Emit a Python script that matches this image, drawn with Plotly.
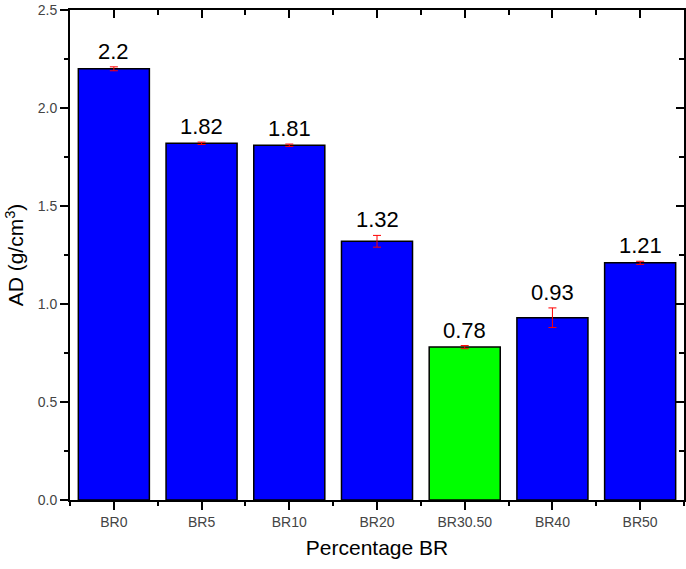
import plotly.graph_objects as go

categories = ["BR0", "BR5", "BR10", "BR20", "BR30.50", "BR40", "BR50"]
values = [2.2, 1.82, 1.81, 1.32, 0.78, 0.93, 1.21]
errors = [0.01, 0.006, 0.006, 0.03, 0.008, 0.05, 0.008]
labels = ["2.2", "1.82", "1.81", "1.32", "0.78", "0.93", "1.21"]
bar_colors = ["#0000FF", "#0000FF", "#0000FF", "#0000FF", "#00FF00", "#0000FF", "#0000FF"]

xpos = list(range(len(categories)))
font = "Liberation Sans, Arial, sans-serif"

fig = go.Figure()
fig.add_trace(go.Bar(
    x=xpos, y=values,
    marker=dict(color=bar_colors, line=dict(color="black", width=1.5)),
    error_y=dict(type="data", array=errors, color="red", thickness=1, width=4),
    width=0.81,
    showlegend=False,
))
# invisible trace to activate mirror axes
fig.add_trace(go.Scatter(x=[xpos[0]], y=[0], xaxis="x2", yaxis="y2",
                         mode="markers", marker=dict(opacity=0), showlegend=False,
                         hoverinfo="skip"))

for xi, v, e, t in zip(xpos, values, errors, labels):
    fig.add_annotation(x=xi, y=v + e, text=t, showarrow=False, yanchor="bottom",
                       yshift=1, font=dict(size=22, color="black", family=font))

xr = [-0.5, len(categories) - 0.5]
yr = [0, 2.5]
fig.update_layout(
    width=686, height=569,
    margin=dict(l=70, r=2, t=6, b=69),
    plot_bgcolor="white", paper_bgcolor="white",
    font=dict(family=font),
    xaxis=dict(range=xr, tickvals=xpos, ticktext=categories,
               ticks="outside", ticklen=8, tickwidth=2, tickcolor="black",
               showline=True, linecolor="black", linewidth=2, showgrid=False,
               zeroline=False,
               tickfont=dict(size=14, color="#444444"),
               minor=dict(ticks="outside", tick0=-0.5, dtick=1, ticklen=4,
                          tickwidth=2, tickcolor="black", showgrid=False),
               title=dict(text="Percentage BR", font=dict(size=21, color="black"), standoff=12)),
    yaxis=dict(range=yr, dtick=0.5, tickformat=".1f", ticklabeloverflow="allow",
               ticks="outside", ticklen=8, tickwidth=2, tickcolor="black",
               showline=True, linecolor="black", linewidth=2, showgrid=False,
               zeroline=False,
               tickfont=dict(size=14, color="#444444"),
               minor=dict(ticks="outside", dtick=0.25, ticklen=4, tickwidth=2,
                          tickcolor="black", showgrid=False),
               title=dict(text="AD (g/cm<sup>3</sup>)", font=dict(size=21, color="black"), standoff=8)),
    xaxis2=dict(overlaying="x", side="top", range=xr, tickvals=xpos, showticklabels=False,
                ticks="inside", ticklen=8, tickwidth=2, tickcolor="black",
                showline=True, linecolor="black", linewidth=2, showgrid=False, zeroline=False,
                minor=dict(ticks="inside", tick0=-0.5, dtick=1, ticklen=5, tickwidth=2,
                           tickcolor="black", showgrid=False)),
    yaxis2=dict(overlaying="y", side="right", range=yr, dtick=0.5, showticklabels=False,
                ticks="inside", ticklen=8, tickwidth=2, tickcolor="black",
                showline=True, linecolor="black", linewidth=2, showgrid=False, zeroline=False,
                minor=dict(ticks="inside", dtick=0.25, ticklen=5, tickwidth=2,
                           tickcolor="black", showgrid=False)),
)

fig.write_html("out.html")
